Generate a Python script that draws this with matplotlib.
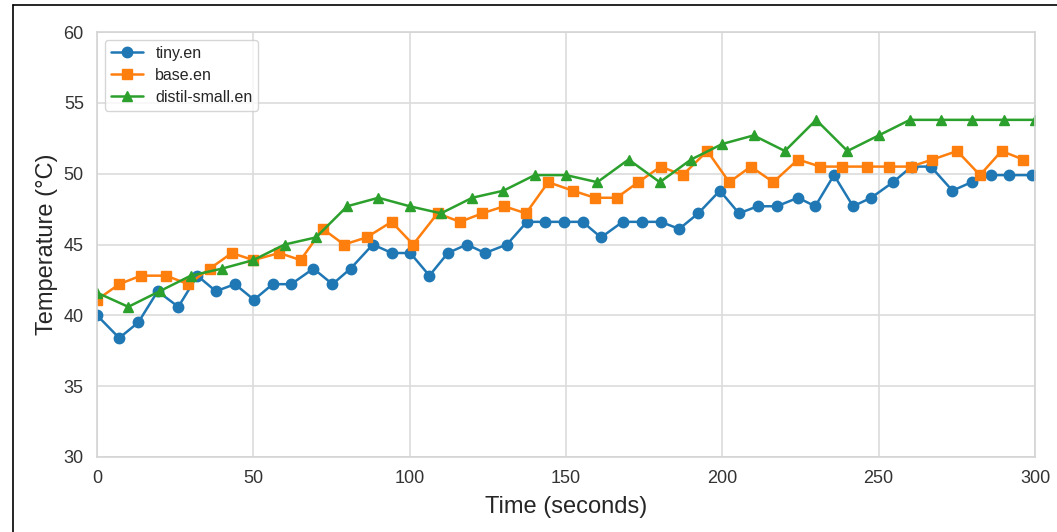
import matplotlib
matplotlib.use("Agg")
import matplotlib.pyplot as plt
from matplotlib.lines import Line2D
import seaborn as sns

# Temperature logs for three whisper models
tiny_t = [0, 7.1, 13.2, 19.4, 26, 32.1, 38, 44.1, 50.2, 56.2, 62.1, 69.2, 75.3,
          81.1, 88.2, 94.3, 100.2, 106.3, 112.2, 118.3, 124.1, 131.1, 137.5,
          143.4, 149.4, 155.3, 161.2, 168.1, 174.2, 180.3, 186.2, 192.3, 199.2,
          205.3, 211.3, 217.4, 224.2, 229.7, 235.7, 241.8, 247.6, 254.6, 260.5,
          266.7, 273.6, 279.7, 285.8, 291.7, 299.1]
tiny_temp = [40.0, 38.4, 39.5, 41.7, 40.6, 42.8, 41.7, 42.2, 41.1, 42.2, 42.2,
             43.3, 42.2, 43.3, 45.0, 44.4, 44.4, 42.8, 44.4, 45.0, 44.4, 45.0,
             46.6, 46.6, 46.6, 46.6, 45.5, 46.6, 46.6, 46.6, 46.1, 47.2, 48.8,
             47.2, 47.7, 47.7, 48.3, 47.7, 49.9, 47.7, 48.3, 49.4, 50.5, 50.5,
             48.8, 49.4, 49.9, 49.9, 49.9]

base_t = [0, 7.1, 14, 22.1, 29.2, 36.1, 43.1, 50, 58.3, 65.1, 72.2, 79, 86.2,
          94.2, 101.1, 108.9, 116.1, 123.2, 130.2, 137.2, 144.3, 152.2, 159.2,
          166.2, 173.1, 180.3, 187.3, 195.2, 202.2, 209.1, 216.3, 224.2, 231.3,
          238.4, 246.3, 253.3, 260.3, 267.2, 275.1, 282.4, 289.3, 296.2]
base_temp = [41.1, 42.2, 42.8, 42.8, 42.2, 43.3, 44.4, 43.9, 44.4, 43.9, 46.1,
             45.0, 45.5, 46.6, 45.0, 47.2, 46.6, 47.2, 47.7, 47.2, 49.4, 48.8,
             48.3, 48.3, 49.4, 50.5, 49.9, 51.6, 49.4, 50.5, 49.4, 51.0, 50.5,
             50.5, 50.5, 50.5, 50.5, 51.0, 51.6, 49.9, 51.6, 51.0]

distil_t = [0, 10, 20, 30, 40, 50, 60, 70, 80, 90, 100, 110, 120, 130, 140, 150,
            160, 170, 180, 190, 200, 210, 220, 230, 240, 250, 260, 270, 280, 290, 300]
distil_temp = [41.6, 40.6, 41.7, 42.8, 43.3, 43.9, 45.0, 45.5, 47.7, 48.3, 47.7,
               47.2, 48.3, 48.8, 49.9, 49.9, 49.4, 51.0, 49.4, 51.0, 52.1, 52.7,
               51.6, 53.8, 51.6, 52.7, 53.8, 53.8, 53.8, 53.8, 53.8]

sns.set_style("whitegrid")
plt.rcParams['font.family'] = ['Liberation Sans', 'DejaVu Sans']

fig = plt.figure(figsize=(10.57, 5.32), dpi=100)
ax = fig.add_axes([0.0918, 0.141, 0.8874, 0.7988])

ax.plot(tiny_t, tiny_temp, marker='o', color='#1f77b4', lw=1.8, ms=7.5, label='tiny.en')
ax.plot(base_t, base_temp, marker='s', color='#ff7f0e', lw=1.8, ms=7.5, label='base.en')
ax.plot(distil_t, distil_temp, marker='^', color='#2ca02c', lw=1.8, ms=7.5, label='distil-small.en')

ax.set_xlim(0, 300)
ax.set_ylim(30, 60)
ax.set_xlabel("Time (seconds)", fontsize=17, color='#262626', labelpad=6)
ax.set_ylabel("Temperature (°C)", fontsize=17, color='#262626', labelpad=4)
ax.tick_params(labelsize=13, colors='#333333', pad=6)
ax.grid(True, color='#dcdcdc', lw=1.2)
for s in ax.spines.values():
    s.set_color('#d4d4d4')
    s.set_linewidth(1.2)
ax.legend(loc='upper left', fontsize=11.5, frameon=True, bbox_to_anchor=(0.0, 1.0),
          handlelength=2.0, borderpad=0.35, labelspacing=0.45)

# screenshot frame on left and top
fig.add_artist(Line2D([13 / 1057, 13 / 1057], [0, 1 - 5 / 532], color='black', lw=1.2))
fig.add_artist(Line2D([13 / 1057, 1], [1 - 5 / 532, 1 - 5 / 532], color='black', lw=1.2))

fig.savefig("out.png", dpi=100)
